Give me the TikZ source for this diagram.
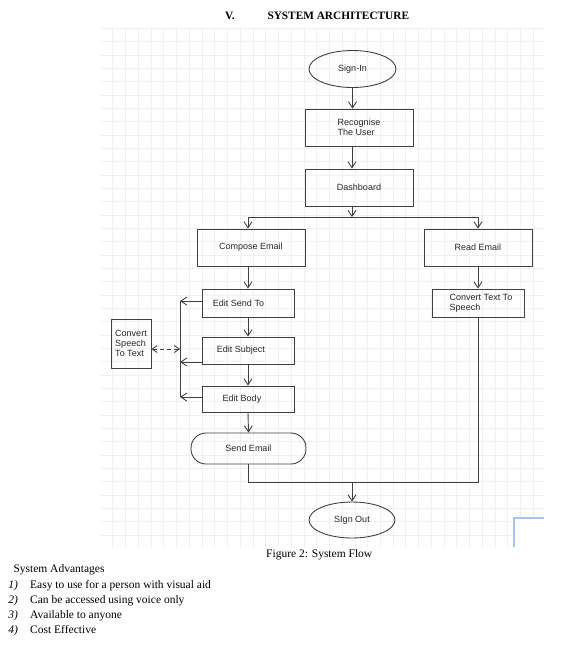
\documentclass[tikz,border=0pt]{standalone}
\usepackage{fontspec}
\setmainfont{Liberation Serif}
\newfontfamily\arialf{Liberation Sans}
\usetikzlibrary{arrows.meta,shapes.geometric}
\begin{document}
\begin{tikzpicture}[x=1pt,y=-1pt,
  gridline/.style={draw=black!6, line width=0.7pt},
  flow/.style={draw=black!75, line width=0.9pt},
  arr/.style={flow, -{Straight Barb[length=6pt,width=8pt]}},
  box/.style={draw=black!75, line width=0.9pt, rectangle, inner sep=0pt, font=\arialf\fontsize{9}{10}\selectfont, text=black!85, align=center},
  oval/.style={box, ellipse},
  term/.style={box, rounded corners=15pt},
  txt/.style={inner sep=0pt, anchor=base west, font=\fontsize{11.5}{13}\selectfont},
]
\useasboundingbox (0,0) rectangle (567,649);
% grid
\begin{scope}
\clip (101,28) rectangle (544,547);
\foreach \k in {-1,...,34} \draw[gridline] ({112.7+\k*12.745},28) -- ++(0,519);
\foreach \k in {-1,...,38} \draw[gridline] (101,{41.7+\k*13.333}) -- ++(443,0);
\end{scope}
% artifact bottom right
\fill[white] (514,518) rectangle (544,547);
\draw[draw={rgb,255:red,170;green,195;blue,235}, line width=1.2pt] (514,547) -- (514,518) -- (544,518);

% title
\node[txt, font=\bfseries\fontsize{11.3}{13}\selectfont] (vnum) at (225,19.5) {V.};
\node[txt, font=\bfseries\fontsize{11.3}{13}\selectfont] (title) at (267.3,19.5) {SYSTEM ARCHITECTURE};

% nodes
\node[oval, minimum width=87pt, minimum height=37pt] (signin) at (352.5,69) {Sign-In};
\node[box, minimum width=108pt, minimum height=37pt, align=left] (recog) at (359,127.5) {Recognise\\The User};
\node[box, minimum width=108pt, minimum height=37pt] (dash) at (359,187.5) {\raisebox{-2pt}{Dashboard}};
\node[box, minimum width=108pt, minimum height=37pt] (compose) at (251,247.5) {Compose Email};
\node[box, minimum width=108pt, minimum height=37pt] (read) at (478,247.5) {Read Email};
\node[box, minimum width=92pt, minimum height=28pt] (sendto) at (248,303) {Edit Send To\hspace{19pt}};
\node[box, minimum width=92pt, minimum height=28pt, align=left] (cts) at (478,303) {\hspace*{6pt}Convert Text To\\\hspace*{6pt}Speech};
\node[box, minimum width=92pt, minimum height=27pt] (subject) at (248,350.5) {Edit Subject\hspace{14pt}};
\node[box, minimum width=92pt, minimum height=26pt] (body) at (248,399) {Edit Body\hspace{12pt}};
\node[box, minimum width=40pt, minimum height=49pt, align=left] (cst) at (131,343.5) {Convert\\Speech\\To Text};
\node[term, minimum width=115pt, minimum height=31pt] (sendemail) at (248.5,448.5) {Send Email};
\node[oval, minimum width=86pt, minimum height=36pt] (signout) at (352,520) {SIgn Out};

% coordinates
\coordinate (jtop) at (352,217);
\coordinate (jl) at (248,217);
\coordinate (jr) at (478,217);
\coordinate (bus1) at (180,301);
\coordinate (bus4) at (180,349);
\coordinate (bus2) at (180,362);
\coordinate (bus3) at (180,397);
\coordinate (jb) at (352,482);
\coordinate (bl) at (248,482);
\coordinate (br) at (478,482);

% connectors
\draw[arr] (signin.south) -- (signin.south |- recog.north);
\draw[arr] (recog.south -| jtop) -- (jtop |- dash.north);
\draw[arr] (dash.south -| jtop) -- (jtop);
\draw[flow] (jl) -- (jr);
\draw[arr] (jl) -- (jl |- compose.north);
\draw[arr] (jr) -- (jr |- read.north);
\draw[arr] (compose.south -| jl) -- (jl |- sendto.north);
\draw[arr] (read.south -| jr) -- (jr |- cts.north);
\draw[arr] (sendto.south) -- (subject.north);
\draw[arr] (subject.south) -- (body.north);
\draw[arr] (body.south) -- (sendemail.south |- sendemail.north);
\draw[arr] (sendto.west |- bus1) -- (bus1);
\draw[arr] (subject.west |- bus2) -- (bus2);
\draw[arr] (body.west |- bus3) -- (bus3);
\draw[flow] (bus1) -- (bus3);
\draw[flow, dash pattern=on 4pt off 3pt, {Straight Barb[length=5pt,width=7pt]}-{Straight Barb[length=5pt,width=7pt]}] (cst.east |- bus4) -- (bus4);
\draw[flow] (sendemail.south -| bl) -- (bl) -- (br) -- (cts.south -| br);
\draw[arr] (jb) -- (jb |- signout.north);

% caption and list
\node[txt] (caption) at (266,557.5) {Figure 2: System Flow};
\node[txt] (adv) at (13.3,572.5) {System Advantages};
\node[txt, font=\itshape\fontsize{11.5}{13}\selectfont] (n1) at (8.3,588.5) {1)};
\node[txt] (i1) at (30,588.5) {Easy to use for a person with visual aid};
\node[txt, font=\itshape\fontsize{11.5}{13}\selectfont] (n2) at (8.3,603.5) {2)};
\node[txt] (i2) at (30,603.5) {Can be accessed using voice only};
\node[txt, font=\itshape\fontsize{11.5}{13}\selectfont] (n3) at (8.3,618.5) {3)};
\node[txt] (i3) at (30,618.5) {Available to anyone};
\node[txt, font=\itshape\fontsize{11.5}{13}\selectfont] (n4) at (8.3,633.5) {4)};
\node[txt] (i4) at (30,633.5) {Cost Effective};
\end{tikzpicture}
\end{document}
